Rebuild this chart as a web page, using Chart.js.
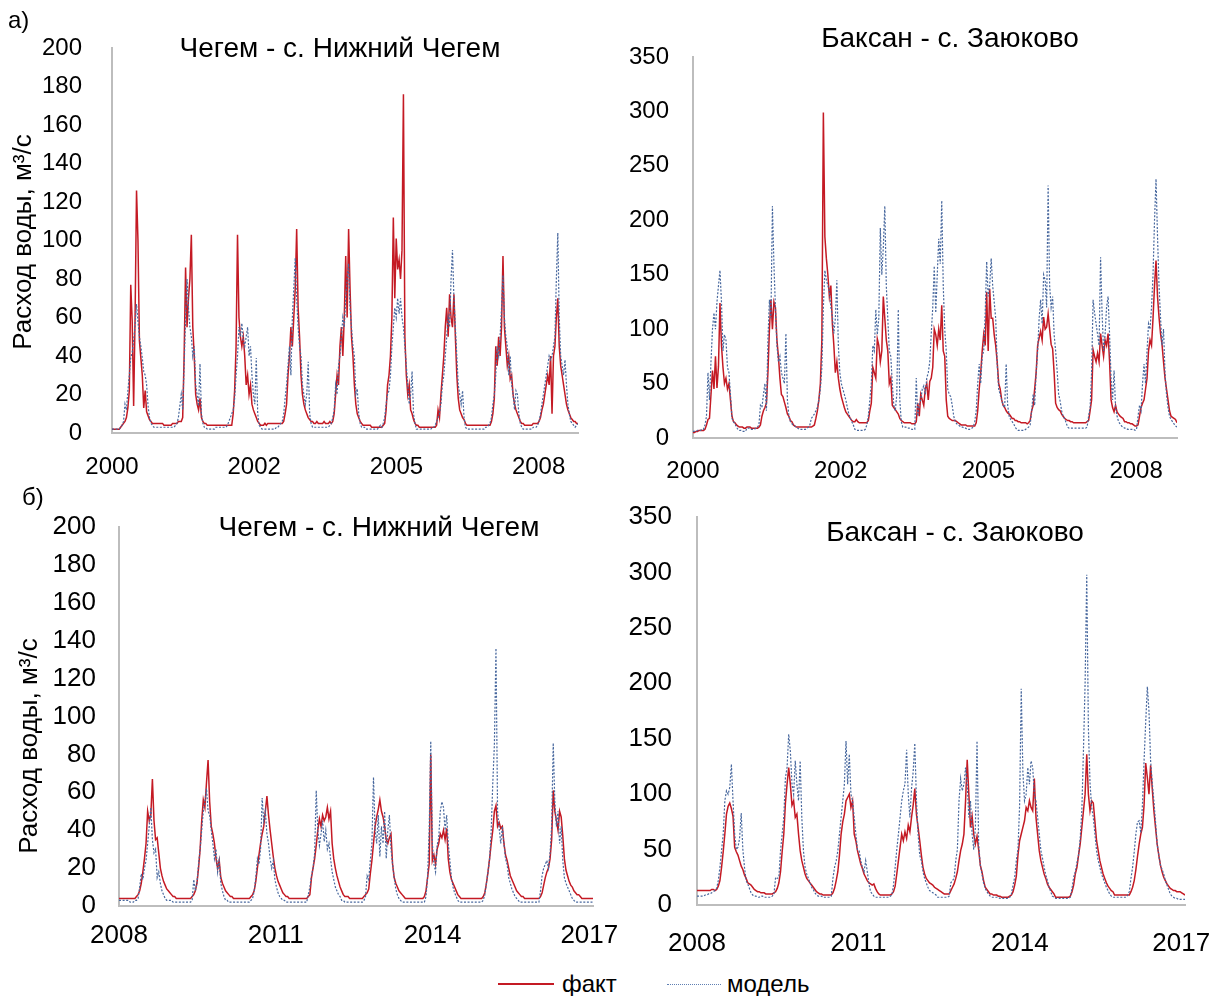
<!DOCTYPE html>
<html>
<head>
<meta charset="utf-8">
<script src="https://cdn.jsdelivr.net/npm/chart.js@4.4.1/dist/chart.umd.min.js"></script>
<style>
  body { margin: 0; background: #fff; font-family: "Liberation Sans", Arial, sans-serif; color: #000; }
  #page { position: relative; width: 1225px; height: 996px; overflow: hidden; }
  canvas { position: absolute; }
  .txt { position: absolute; white-space: nowrap; line-height: 1; }
  .title { font-size: 28px; width: 500px; text-align: center; }
  .ytitle { font-size: 26px; width: 300px; text-align: center; transform: rotate(-90deg); }
  .lline { position: absolute; height: 0; }
</style>
</head>
<body>
<div id="page">
  <canvas id="c1" width="600" height="470" style="left:0px;top:20px"></canvas>
  <canvas id="c2" width="600" height="470" style="left:610px;top:20px"></canvas>
  <canvas id="c3" width="640" height="460" style="left:0px;top:500px"></canvas>
  <canvas id="c4" width="615" height="460" style="left:610px;top:500px"></canvas>

  <div class="txt" style="left:8px;top:8px;font-size:24px">а)</div>
  <div class="txt" style="left:22px;top:485px;font-size:24px">б)</div>

  <div class="txt title" style="left:90px;top:34px">Чегем - с. Нижний Чегем</div>
  <div class="txt title" style="left:700px;top:24px">Баксан - с. Заюково</div>
  <div class="txt title" style="left:129px;top:513px">Чегем - с. Нижний Чегем</div>
  <div class="txt title" style="left:705px;top:518px">Баксан - с. Заюково</div>

  <div class="txt ytitle" style="left:-128px;top:229px">Расход воды, м³/с</div>
  <div class="txt ytitle" style="left:-122px;top:733px">Расход воды, м³/с</div>

  <div class="lline" style="left:498px;top:983px;width:56px;border-top:2px solid #c41a24"></div>
  <div class="txt" style="left:562px;top:972px;font-size:24px">факт</div>
  <div class="lline" style="left:667px;top:984px;width:54px;border-top:1px dotted #5f7fb2"></div>
  <div class="txt" style="left:727px;top:972px;font-size:24px">модель</div>
</div>

<script>
// 10-day steps; x axis ticks every 1000 days as in the original Excel chart
const STEP = 1 / 36;
const TICK_STEP = 1000 / 365.25;

const start1 = 2000;           // 1 Jan 2000
const start2 = 2008 + 33 / 36; // early Dec 2008

const tickLabels1 = ['2000', '2002', '2005', '2008'];
const tickLabels2 = ['2008', '2011', '2014', '2017'];

// а) Чегем - с. Нижний Чегем, 2000-2008
const chegemFact1 = [
  2,2,2,2,2,2,3,4,5,6,8,13,22,77,58,14,60,126,100,48,39,30,13,22,11,9,7,6,5,5,5,5,5,5,5,5,
  4,4,4,4,4,4,5,5,5,5,6,6,6,8,40,86,55,70,80,103,55,40,20,15,12,18,8,6,5,5,4,4,4,4,4,4,
  4,4,4,4,4,4,4,4,4,4,4,4,10,22,45,103,60,50,45,50,40,25,30,20,25,15,12,10,8,6,5,4,4,4,5,4,
  5,5,5,5,5,5,5,5,5,5,5,6,10,15,30,40,55,45,60,75,106,65,50,30,20,15,12,10,8,7,6,6,5,5,6,5,
  5,5,5,6,5,5,5,6,5,6,10,20,30,25,45,55,40,60,92,60,106,75,50,40,25,15,10,8,6,5,4,4,4,4,4,4,
  3,3,3,3,3,3,3,3,4,5,12,25,30,40,60,112,70,101,85,90,80,95,176,50,30,20,25,12,10,7,5,4,4,3,3,3,
  3,3,3,3,3,3,3,3,3,4,12,8,20,30,40,55,65,50,72,60,55,72,50,30,18,12,10,8,7,5,4,4,4,4,4,4,
  4,4,4,4,4,4,4,4,4,4,4,6,10,18,45,35,50,40,55,92,55,45,35,40,28,30,20,15,12,10,8,6,5,5,4,4,
  4,4,4,4,5,5,5,5,6,8,12,15,20,25,30,25,40,10,40,45,60,70,45,35,30,25,20,15,12,10,8,7,6,6,5,5
];
const chegemModel1 = [
  2,2,2,2,2,2,3,4,6,15,12,22,30,39,42,48,56,67,58,50,45,39,32,30,25,14,8,5,4,3,3,3,3,3,3,3,
  3,3,3,3,3,3,3,3,4,5,8,14,20,12,35,60,80,65,55,50,40,45,25,20,14,36,10,5,3,3,2,2,2,2,2,2,
  3,3,3,3,3,3,3,3,4,6,8,10,12,18,30,40,55,50,57,48,45,50,55,40,45,30,20,15,39,10,4,3,2,2,2,2,
  2,2,2,2,2,2,3,3,4,5,6,10,18,25,35,45,30,60,75,91,70,55,45,40,25,20,15,20,37,10,5,3,3,3,3,3,
  3,3,3,3,3,3,3,4,5,8,12,25,20,35,40,50,60,55,70,80,88,65,55,45,40,20,23,10,5,3,3,3,2,2,2,2,
  2,2,2,2,2,3,4,3,5,8,15,20,22,30,45,55,65,60,70,62,70,60,55,45,35,25,15,20,32,10,5,2,2,2,2,2,
  2,2,2,2,2,2,3,3,4,6,8,10,15,25,30,40,50,60,55,80,95,70,55,40,25,20,15,22,8,3,2,2,2,2,2,2,
  2,2,2,2,2,2,2,3,3,4,5,8,15,20,30,45,40,50,65,82,60,50,45,30,40,25,20,12,22,20,10,5,3,2,2,2,
  2,2,2,2,3,3,3,4,6,10,15,20,25,30,35,40,38,40,45,50,80,104,60,40,35,30,38,25,15,10,6,5,4,3,4,5
];

// а) Баксан - с. Заюково, 2000-2008
const baksanFact1 = [
  5,5,6,6,7,7,7,7,8,12,17,18,40,62,45,75,46,66,124,85,65,50,55,45,50,35,20,15,14,12,11,10,10,10,9,9,
  10,10,10,9,9,9,9,9,10,12,20,25,28,32,60,100,127,100,125,120,90,75,55,40,38,33,28,22,20,16,15,12,11,10,10,10,
  10,10,10,10,10,10,10,10,11,12,18,25,35,50,90,299,185,165,150,130,140,105,85,60,70,55,45,38,33,28,24,22,20,18,16,15,
  15,17,15,14,14,14,14,14,14,16,25,32,65,60,55,91,85,70,80,130,110,90,80,50,55,30,28,26,24,22,18,16,15,14,14,14,
  14,14,13,13,13,15,32,20,40,35,30,45,50,35,52,55,65,100,95,85,100,90,122,80,75,35,20,18,17,16,16,16,15,14,13,12,
  12,12,12,11,11,11,11,11,11,14,25,45,60,80,95,85,134,80,137,110,110,95,85,70,50,45,35,30,28,25,23,22,20,18,18,16,
  16,15,15,14,14,14,14,13,14,16,25,30,45,60,85,92,98,90,111,100,102,114,100,86,82,60,32,28,26,25,22,20,18,17,16,16,
  15,15,14,14,14,14,14,14,14,14,14,15,16,25,35,81,75,70,78,70,96,85,75,90,85,96,70,35,28,24,30,24,22,20,19,18,
  15,15,14,14,13,13,12,11,11,12,20,28,32,35,45,55,80,90,85,110,140,163,130,111,96,86,70,55,45,35,25,20,19,18,17,14
];
const baksanModel1 = [
  6,6,6,7,7,7,8,8,12,20,60,35,70,100,115,100,125,140,154,125,80,95,90,65,60,40,18,15,13,10,8,7,7,6,6,6,
  9,9,9,8,8,8,9,10,12,30,28,40,50,25,90,127,110,213,160,120,85,70,75,60,55,50,96,35,20,15,13,12,11,10,9,8,
  8,8,8,8,9,10,12,18,20,22,25,28,35,45,65,120,154,145,140,135,120,112,96,110,145,85,60,50,45,40,35,28,22,18,15,12,
  8,7,7,7,7,7,7,8,12,20,35,50,85,80,118,95,110,193,150,175,213,140,110,80,75,50,30,25,40,118,35,15,10,10,10,9,
  9,9,8,8,8,55,20,30,35,45,48,40,55,60,70,96,120,158,115,150,183,160,218,140,100,80,45,40,38,30,20,15,13,12,11,10,
  10,9,9,8,8,8,9,10,15,25,50,68,50,75,80,115,162,130,140,165,140,125,110,68,45,40,35,30,28,68,30,20,17,15,13,10,
  8,7,7,7,7,7,8,9,10,12,25,40,30,60,80,110,127,105,150,145,120,232,140,120,130,95,80,62,40,34,25,20,18,14,10,9,
  9,9,9,9,9,9,9,9,9,9,9,10,20,28,60,127,115,105,95,85,166,115,80,95,120,130,95,55,35,62,28,20,15,13,11,10,
  9,9,8,8,8,8,8,7,8,20,30,25,50,68,50,80,105,100,120,150,200,238,185,140,111,85,100,60,40,28,20,17,15,13,11,10
];

// б) Чегем - с. Нижний Чегем, Dec 2008 - Mar 2017
const chegemFact2 = [
  4,4,4,
  4,4,4,4,4,4,4,4,5,6,8,12,18,25,33,50,45,48,67,45,35,36,28,20,16,13,11,9,8,7,6,5,5,4,4,4,
  4,4,4,4,4,4,4,5,6,8,12,20,30,45,56,52,65,77,55,42,38,33,25,20,24,15,12,10,8,7,6,5,5,4,4,4,
  4,4,4,4,4,4,4,4,5,6,8,13,20,27,33,38,42,50,58,48,40,33,26,20,16,13,11,9,7,6,5,5,4,4,4,4,
  4,4,4,4,4,4,4,4,5,6,15,20,25,32,40,46,42,48,45,47,52,46,50,33,25,20,16,13,10,8,6,5,5,5,4,4,
  4,4,4,4,4,4,4,5,6,7,9,17,24,33,42,47,51,56,50,47,42,35,33,36,38,22,15,12,10,8,7,6,5,4,4,4,
  4,4,4,4,4,4,4,4,4,5,8,15,22,80,24,27,22,30,33,38,36,40,35,41,25,18,14,12,10,8,6,5,4,4,4,4,
  4,4,4,4,4,4,4,4,4,4,5,7,12,18,25,33,40,50,53,42,44,41,42,33,27,24,20,16,14,12,10,8,7,6,5,5,
  4,4,4,4,4,4,4,4,4,4,5,7,11,15,18,20,25,35,61,50,45,40,50,47,37,25,19,16,13,11,10,8,7,6,6,5,
  4,4,4,4,4,4,4,4
];
const chegemModel2 = [
  3,3,3,
  3,3,3,3,2,2,2,3,3,4,10,17,14,20,24,33,42,52,35,28,30,15,18,12,8,6,4,3,3,3,3,2,2,2,2,2,
  2,2,2,2,2,2,2,3,14,8,12,22,30,40,50,55,62,50,48,40,33,25,30,18,24,12,8,5,3,3,2,2,2,2,2,2,
  2,2,2,2,2,2,2,2,3,4,8,15,25,22,30,57,45,50,38,33,25,20,24,14,10,7,5,4,3,3,2,2,2,2,2,2,
  2,2,2,2,2,2,2,2,6,10,16,20,28,61,40,32,38,45,34,40,30,33,25,18,14,10,8,6,5,3,3,2,2,2,2,2,
  2,2,2,2,2,2,2,3,5,16,14,24,33,68,40,33,48,26,42,33,50,25,40,48,30,22,15,9,6,4,3,2,2,2,2,2,
  2,2,2,2,2,2,2,2,2,2,5,15,40,87,33,22,18,32,36,50,55,52,40,48,33,24,15,10,7,5,3,2,2,2,2,2,
  2,2,2,2,2,2,2,2,2,2,3,6,12,18,25,40,65,85,136,50,41,33,42,33,25,22,15,12,9,7,5,4,3,2,2,2,
  2,2,2,2,2,2,2,2,2,2,8,16,20,22,24,20,28,42,86,55,42,50,33,42,24,15,12,10,8,6,4,3,2,2,2,2,
  2,2,2,2,2,2,2,2
];

// б) Баксан - с. Заюково, Dec 2008 - Mar 2017
const baksanFact2 = [
  13,13,13,
  13,13,13,13,13,13,14,14,13,14,17,22,34,48,64,82,89,92,87,80,52,48,45,40,35,32,27,24,20,19,18,16,14,13,12,12,
  11,11,11,10,10,10,10,10,11,12,15,20,30,48,64,92,109,124,109,90,94,79,82,64,49,40,34,28,24,22,20,18,16,14,12,11,
  10,10,9,9,9,9,9,9,11,15,22,30,45,64,75,82,94,97,100,88,94,64,58,49,43,37,33,28,25,22,20,19,18,19,15,12,
  10,9,9,9,9,9,9,9,10,12,17,28,40,52,64,58,66,60,72,66,79,90,105,82,70,58,45,34,28,24,22,20,19,18,16,15,
  14,13,12,11,10,10,10,10,13,16,19,24,30,40,49,55,64,94,131,100,70,80,64,55,62,50,36,30,22,16,14,12,10,10,9,9,
  9,8,8,7,7,7,7,7,8,9,12,18,26,45,58,64,70,76,88,85,94,88,85,114,79,64,49,40,34,28,24,19,16,14,12,10,
  7,7,7,7,7,7,7,7,7,8,12,18,28,34,45,55,70,85,100,136,100,85,94,92,75,58,49,40,34,28,24,20,17,15,13,12,
  9,9,9,9,9,9,9,9,9,9,12,16,22,32,44,55,64,70,90,128,115,100,126,105,85,70,55,45,36,30,25,22,19,17,15,14,
  13,13,12,12,12,11,10,9
];
const baksanModel2 = [
  8,8,8,
  8,8,9,9,10,10,11,12,13,15,22,34,49,64,94,103,100,106,127,94,64,50,52,60,83,50,34,22,19,15,11,9,8,8,7,7,
  8,8,7,7,7,7,7,8,10,25,24,25,49,64,79,115,124,154,139,109,100,130,109,94,130,79,49,34,28,24,20,16,14,11,9,8,
  8,8,7,7,7,7,7,8,24,34,40,49,64,79,94,109,148,109,136,100,94,79,64,50,49,40,34,30,40,30,19,12,10,8,7,7,
  7,7,7,7,7,7,7,8,9,18,34,50,64,79,94,103,109,140,100,79,105,120,146,95,64,45,40,30,24,20,16,13,12,11,10,9,
  7,7,7,7,7,7,7,8,20,22,24,40,50,94,114,103,109,124,109,79,94,64,50,70,148,55,36,28,20,15,12,10,8,7,7,7,
  7,7,6,6,6,6,6,6,7,10,18,25,40,50,90,195,120,94,100,124,109,130,124,100,94,79,64,49,42,34,27,22,16,12,8,7,
  6,6,6,6,6,6,6,6,6,7,15,25,30,38,45,60,85,140,200,298,160,110,88,79,64,49,40,34,28,24,20,16,13,10,8,7,
  7,7,7,7,7,7,7,7,9,12,24,34,48,64,75,76,65,90,130,165,197,175,130,110,94,75,55,45,36,32,28,22,18,14,10,8,
  7,6,6,5,5,5,5,5
];

const FONT = '"Liberation Sans", Arial, sans-serif';
const RED = '#c41a24';
const BLUE = 'rgb(72, 104, 158)';
const AXIS = '#bdbdbd';

function toPoints(values, start) {
  return values.map((v, i) => ({ x: start + i * STEP, y: v }));
}

function drawPanel(id, o) {
  const last = o.start + (o.fact.length - 1) * STEP;
  new Chart(document.getElementById(id), {
    type: 'line',
    data: {
      datasets: [
        { label: 'факт', data: toPoints(o.fact, o.start), borderColor: RED, borderWidth: 1.5,
          pointRadius: 0, order: 2 },
        { label: 'модель', data: toPoints(o.model, o.start), borderColor: BLUE, borderWidth: 1.2,
          borderDash: [2, 1.6], pointRadius: 0, order: 1 }
      ]
    },
    options: {
      responsive: false,
      animation: false,
      events: [],
      layout: { padding: { top: o.padTop, right: o.padRight, bottom: 0, left: 0 } },
      plugins: { legend: { display: false }, tooltip: { enabled: false } },
      scales: {
        x: {
          type: 'linear', min: o.start, max: last,
          grid: { display: false, drawTicks: false },
          border: { color: AXIS, width: 2 },
          afterBuildTicks: s => { s.ticks = o.labels.map((_, k) => ({ value: o.start + k * TICK_STEP })); },
          // fixed box; label overflow is allowed into the canvas margins
          afterFit: s => { s.height = o.xHeight; s.paddingLeft = 0; s.paddingRight = 0; },
          ticks: { autoSkip: false, maxRotation: 0, padding: o.xPad, color: '#000',
                   font: { family: FONT, size: o.font }, callback: (v, i) => o.labels[i] }
        },
        y: {
          min: 0, max: o.yMax,
          grid: { display: false, drawTicks: false },
          border: { color: AXIS, width: 2 },
          afterFit: s => { s.width = o.yWidth; s.paddingTop = 0; s.paddingBottom = 0; },
          ticks: { stepSize: o.yStep, padding: o.yPad, color: '#000', font: { family: FONT, size: o.font } }
        }
      }
    }
  });
}

drawPanel('c1', { fact: chegemFact1, model: chegemModel1, start: start1, labels: tickLabels1,
  yMax: 200, yStep: 20, yWidth: 112, padTop: 28, padRight: 22, xHeight: 57, xPad: 20, yPad: 30, font: 24 });
drawPanel('c2', { fact: baksanFact1, model: baksanModel1, start: start1, labels: tickLabels1,
  yMax: 350, yStep: 50, yWidth: 83, padTop: 37, padRight: 33, xHeight: 52, xPad: 19, yPad: 24, font: 24 });
drawPanel('c3', { fact: chegemFact2, model: chegemModel2, start: start2, labels: tickLabels2,
  yMax: 200, yStep: 20, yWidth: 119, padTop: 27, padRight: 47, xHeight: 54, xPad: 14, yPad: 23, font: 26 });
drawPanel('c4', { fact: baksanFact2, model: baksanModel2, start: start2, labels: tickLabels2,
  yMax: 350, yStep: 50, yWidth: 87, padTop: 17, padRight: 40, xHeight: 55, xPad: 23, yPad: 25, font: 26 });
</script>
</body>
</html>
